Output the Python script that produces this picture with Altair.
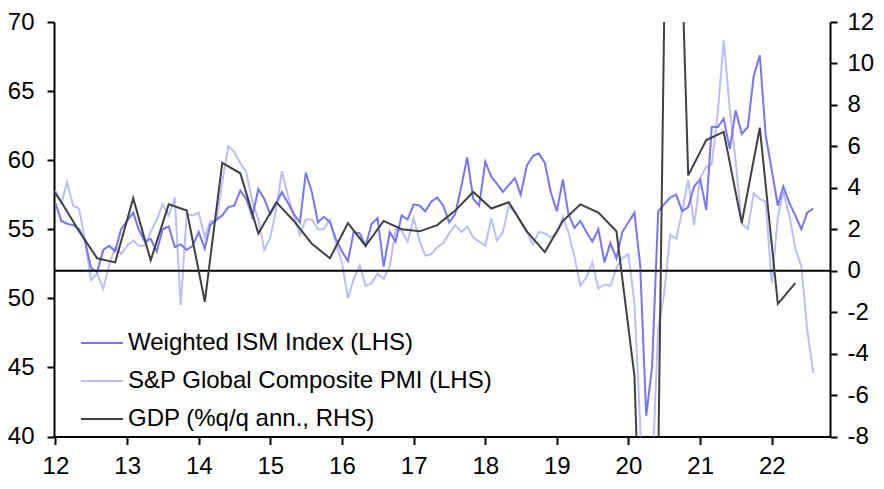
import altair as alt
import pandas as pd

FONT = "Liberation Sans"

series_names = [
    "Weighted ISM Index (LHS)",
    "S&P Global Composite PMI (LHS)",
    "GDP (%q/q ann., RHS)",
]
series_colors = ["#7575ff", "#bcbcff", "#404040"]

# Monthly, Jan 2012 - Aug 2022
ism = [
    56.9, 55.6, 55.4, 55.3, 55.0, 54.1, 52.2, 51.9, 53.5, 53.8, 53.4, 55.0,
    55.6, 56.2, 55.0, 54.1, 54.3, 53.4, 55.0, 55.2, 53.7, 53.9, 53.5, 53.8,
    54.8, 53.6, 55.3, 55.7, 56.0, 56.6, 56.7, 57.8, 57.2, 55.9, 57.9, 57.2,
    56.1, 56.9, 57.7, 56.9, 56.1, 55.5, 59.1, 57.7, 55.5, 55.9, 55.5, 54.3,
    53.4, 52.7, 54.8, 54.7, 53.8, 55.4, 55.8, 52.3, 54.8, 54.1, 56.0, 55.7,
    56.8, 56.7, 56.3, 57.0, 57.3, 56.7, 55.5, 56.1, 58.1, 60.2, 57.2, 56.7,
    59.9, 58.8, 58.3, 57.7, 58.2, 58.7, 57.5, 59.6, 60.3, 60.5, 59.8, 57.7,
    56.3, 58.6, 56.1, 55.1, 55.6, 54.8, 54.1, 55.0, 52.6, 54.0, 52.9, 54.8,
    55.5, 56.2, 52.4, 41.5, 45.1, 56.3, 56.8, 57.3, 57.5, 56.3, 56.6, 58.1,
    58.6, 56.4, 62.4, 62.4, 63.0, 60.8, 63.6, 61.9, 62.4, 66.1, 67.6, 61.8,
    59.3, 56.7, 58.1, 56.9, 56.0, 55.0, 56.2, 56.5,
]
pmi = [
    57.8, 56.9, 58.4, 56.7, 56.5, 54.1, 51.3, 51.8, 50.7, 52.4, 53.7, 53.2,
    53.8, 54.2, 53.8, 53.8, 54.8, 55.7, 56.8, 56.0, 57.3, 49.5, 56.1, 56.0,
    56.2, 54.4, 55.6, 55.6, 58.4, 61.0, 60.6, 59.8, 59.1, 57.0, 55.7, 53.5,
    54.4, 56.5, 59.2, 57.4, 56.0, 54.6, 55.7, 55.7, 55.0, 55.0, 55.7, 54.0,
    52.6, 50.0, 51.4, 52.4, 50.9, 51.1, 51.8, 51.4, 52.3, 55.0, 54.9, 54.1,
    55.8, 54.1, 53.1, 53.2, 53.7, 54.0, 54.7, 55.3, 54.8, 55.2, 54.4, 54.1,
    53.8, 55.8, 54.2, 54.8, 56.7, 56.2, 55.5, 54.8, 53.9, 54.8, 54.7, 54.4,
    54.7, 55.9, 54.8, 53.0, 50.9, 51.5, 52.6, 50.7, 51.0, 50.9, 52.2, 52.9,
    53.2, 49.6, 40.9, 27.0, 37.0, 47.9, 50.3, 54.6, 54.3, 56.3, 58.6, 55.3,
    58.7, 59.5, 59.7, 63.5, 68.7, 63.7, 59.9, 55.4, 55.0, 57.6, 57.2, 57.0,
    51.1, 55.9, 57.7, 56.0, 53.6, 52.3, 47.7, 44.6,
]
# Quarterly, 2011Q4 - 2022Q2 (plotted at middle month of quarter)
gdp = [
    4.6,
    3.3, 1.9, 0.6, 0.4,
    3.5, 0.5, 3.2, 2.9,
    -1.5, 5.2, 4.7, 1.8,
    3.3, 2.4, 1.3, 0.6,
    2.3, 1.2, 2.4, 2.0,
    1.9, 2.2, 2.9, 3.8,
    3.0, 3.3, 1.9, 0.9,
    2.4, 3.2, 2.8, 1.9,
    -5.1, -31.2, 33.8, 4.6,
    6.3, 6.7, 2.3, 6.9,
    -1.6, -0.6,
]
zero_level = [0]

months = pd.date_range("2012-01-01", periods=len(ism), freq="MS")
quarters = pd.date_range("2011-11-01", periods=len(gdp), freq="3MS")

df_ism = pd.DataFrame({"date": months, "value": ism, "series": series_names[0]})
df_pmi = pd.DataFrame({"date": months, "value": pmi, "series": series_names[1]})
df_gdp = pd.DataFrame({"date": quarters, "value": gdp, "series": series_names[2]})
df_zero = pd.DataFrame({"zero": zero_level})

axis_common = dict(
    labelFont=FONT,
    labelFontSize=24,
    labelColor="black",
    domainColor="black",
    domainWidth=2,
    tickColor="black",
    tickWidth=2,
    grid=False,
    title=None,
)

x_enc = alt.X(
    "date:T",
    scale=alt.Scale(
        domain=[
            alt.DateTime(year=2011, month=12, date=25),
            alt.DateTime(year=2022, month=10, date=25),
        ]
    ),
    axis=alt.Axis(
        format="%y",
        values=[alt.DateTime(year=y, month=1, date=1) for y in range(2012, 2023)],
        tickSize=8,
        labelPadding=10,
        labelFlush=False,
        labelOverlap=False,
        **axis_common,
    ),
)

left_scale = alt.Scale(domain=[40, 70], nice=False, zero=False)
right_scale = alt.Scale(domain=[-8, 12], nice=False, zero=False)

left_axis = alt.Axis(
    orient="left", values=list(range(40, 71, 5)), tickSize=7, labelPadding=13, **axis_common
)
right_axis = alt.Axis(
    orient="right",
    values=list(range(-8, 13, 2)),
    tickSize=7,
    labelPadding=10,
    labelExpr="toString(datum.value)",
    **axis_common,
)

legend = alt.Legend(
    title=None,
    orient="none",
    legendX=26,
    legendY=299,
    labelFont=FONT,
    labelFontSize=24,
    labelColor="black",
    labelLimit=0,
    labelOffset=4,
    symbolType="stroke",
    symbolSize=1764,
    symbolStrokeWidth=2,
    rowPadding=4,
    padding=0,
)
color_enc = alt.Color(
    "series:N",
    scale=alt.Scale(domain=series_names, range=series_colors),
    legend=legend,
)

pmi_line = alt.Chart(df_pmi).mark_line(clip=True, strokeWidth=2).encode(
    x=x_enc, y=alt.Y("value:Q", scale=left_scale, axis=left_axis), color=color_enc
)
ism_line = alt.Chart(df_ism).mark_line(clip=True, strokeWidth=2).encode(
    x=x_enc, y=alt.Y("value:Q", scale=left_scale, axis=left_axis), color=color_enc
)
zero_rule = alt.Chart(df_zero).mark_rule(color="black", strokeWidth=2).encode(
    y=alt.Y("zero:Q", scale=right_scale, axis=right_axis)
)
gdp_line = alt.Chart(df_gdp).mark_line(clip=True, strokeWidth=2).encode(
    x=x_enc, y=alt.Y("value:Q", scale=right_scale, axis=right_axis), color=color_enc
)

left = alt.layer(pmi_line, ism_line)
right = alt.layer(zero_rule, gdp_line)

chart = (
    alt.layer(left, right)
    .resolve_scale(y="independent")
    .properties(
        width=776,
        height=414.5,
        padding={"left": 46, "top": 14, "right": 46, "bottom": 44.5},
        autosize=alt.AutoSizeParams(type="none"),
    )
    .configure_view(stroke=None)
)

chart.save("out.html", embed_options={"renderer": "svg", "actions": False})
